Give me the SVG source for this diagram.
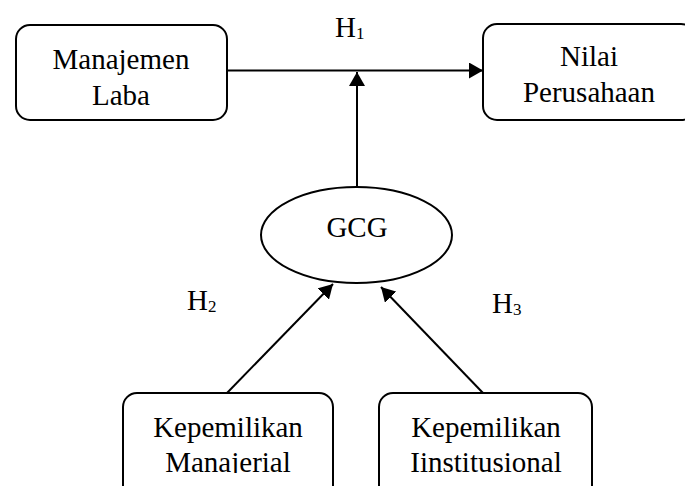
<svg xmlns="http://www.w3.org/2000/svg" width="685" height="486" viewBox="0 0 685 486">
<style>
.box{fill:#fff;stroke:#000;stroke-width:2}
.t{font-family:"Liberation Serif","Times New Roman",serif;font-size:29px;fill:#000;text-anchor:middle}
.h{font-family:"Liberation Serif","Times New Roman",serif;font-size:29px;fill:#000}
.sub{font-size:17px}
.c{stroke:#000;stroke-width:2;fill:none}
</style>
<defs>
<marker id="ah" markerWidth="14" markerHeight="16" refX="14" refY="8" orient="auto" markerUnits="userSpaceOnUse">
<path d="M0,0 L14,8 L0,16 Z" fill="#000"/>
</marker>
<clipPath id="clipBottom"><rect x="0" y="0" width="685" height="473"/></clipPath>
</defs>
<rect width="685" height="486" fill="#fff"/>
<g id="connectors">
<line class="c" x1="227" y1="70.5" x2="483" y2="70.5" marker-end="url(#ah)"/>
<line class="c" x1="357" y1="187" x2="357" y2="72" marker-end="url(#ah)"/>
<line class="c" x1="227" y1="393" x2="333" y2="284" marker-end="url(#ah)"/>
<line class="c" x1="483" y1="393" x2="381" y2="287" marker-end="url(#ah)"/>
</g>
<g id="labels">
<text class="h" x="335" y="37">H<tspan class="sub" y="39">1</tspan></text>
<text class="h" x="187" y="310">H<tspan class="sub" y="312">2</tspan></text>
<text class="h" x="492" y="313">H<tspan class="sub" y="315">3</tspan></text>
</g>
<g id="manajemen-laba">
<rect class="box" x="16" y="25" width="211" height="95" rx="14"/>
<text class="t" x="121" y="69" transform="translate(0,69) scale(1,1.05) translate(0,-69)">Manajemen</text>
<text class="t" x="121" y="105" transform="translate(0,105) scale(1,1.05) translate(0,-105)">Laba</text>
</g>
<g id="nilai-perusahaan">
<rect class="box" x="483" y="24" width="212" height="96" rx="14"/>
<text class="t" x="589" y="66" transform="translate(0,66) scale(1,1.05) translate(0,-66)">Nilai</text>
<text class="t" x="589" y="102" transform="translate(0,102) scale(1,1.05) translate(0,-102)">Perusahaan</text>
</g>
<g id="gcg">
<ellipse class="box" cx="356.5" cy="235" rx="95.5" ry="48"/>
<text class="t" x="357" y="237">GCG</text>
</g>
<g id="kepemilikan-manajerial">
<rect class="box" x="123" y="393" width="210" height="110" rx="14"/>
<text class="t" x="228" y="437" transform="translate(0,437) scale(1,1.05) translate(0,-437)">Kepemilikan</text>
<text class="t" x="228" y="472" clip-path="url(#clipBottom)">Manajerial</text>
</g>
<g id="kepemilikan-institusional">
<rect class="box" x="379" y="393" width="213" height="110" rx="14"/>
<text class="t" x="486" y="437" transform="translate(0,437) scale(1,1.05) translate(0,-437)">Kepemilikan</text>
<text class="t" x="486" y="472" clip-path="url(#clipBottom)">Iinstitusional</text>
</g>
</svg>
